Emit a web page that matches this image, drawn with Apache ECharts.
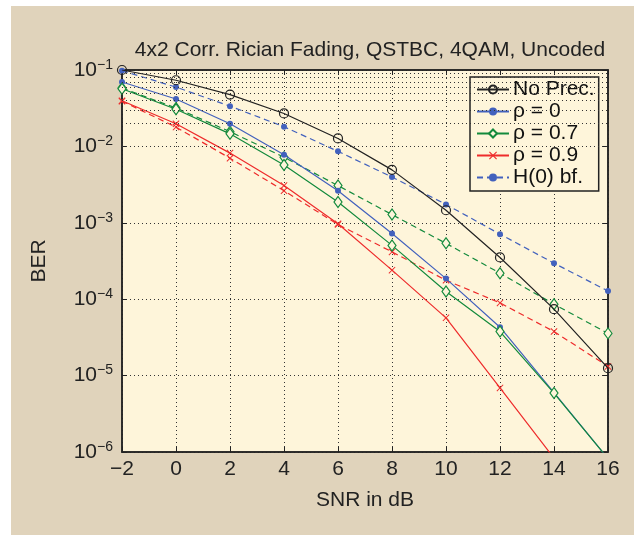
<!DOCTYPE html>
<html>
<head>
<meta charset="utf-8">
<script src="https://cdn.jsdelivr.net/npm/echarts@6/dist/echarts.min.js"></script>
<style>
  html, body { margin: 0; padding: 0; background: #fff; }
  #panel { position: absolute; left: 11px; top: 6px; width: 623px; height: 529px; background: #e0d3bb; }
  #echarts_container { position: absolute; left: 0; top: 0; width: 634px; height: 535px; }
</style>
</head>
<body>
<div id="panel"></div>
<div id="echarts_container"></div>
<script>
var snr = [-2, 0, 2, 4, 6, 8, 10, 12, 14, 16]
var noPrec = [0.1, 0.0734, 0.0477, 0.027, 0.0127, 0.00493, 0.00146, 3.52e-4, 7.4e-5, 1.25e-5]
var rho0 = [0.0697, 0.0417, 0.0198, 0.00776, 0.00263, 7.25e-4, 1.86e-4, 4.3e-5, 6.0e-6, 8.2e-7]
var rho07 = [0.0568, 0.0306, 0.0146, 0.0057, 0.00187, 5.06e-4, 1.26e-4, 3.77e-5, 5.9e-6, 8.2e-7]
var rho09 = [0.0396, 0.0198, 0.00817, 0.00307, 9.7e-4, 2.4e-4, 5.7e-5, 6.9e-6, 8.3e-7]
var bf0 = [0.098, 0.0597, 0.0336, 0.0181, 0.00861, 0.00397, 0.00174, 7.1e-4, 2.96e-4, 1.28e-4]
var bf07 = [0.058, 0.0318, 0.0156, 0.00722, 0.00307, 0.00128, 5.38e-4, 2.19e-4, 8.6e-5, 3.57e-5]
var bf09 = [0.039, 0.0179, 0.0070, 0.00263, 9.5e-4, 4.16e-4, 1.77e-4, 8.95e-5, 3.77e-5, 1.32e-5]

var xTicks = [-2, 0, 2, 4, 6, 8, 10, 12, 14, 16]
var decades = [1e-6, 1e-5, 1e-4, 1e-3, 1e-2]
var minorMult = [2, 3, 4, 5, 6, 7, 8, 9]

var chartDom = document.getElementById('echarts_container');
var myChart = echarts.init(chartDom);
var option;

const pairs = (arr) => arr.map((v, i) => [snr[i], v])

// minor log grid lines (2..9 x decade)
let minorLines = []
decades.map(d => {
    minorMult.map(m => minorLines.push({ yAxis: d * m }))
})

const FONT = 'Liberation Sans, Arial, sans-serif'
const xMark = 'path://M0,1L1,0L5,4L9,0L10,1L6,5L10,9L9,10L5,6L1,10L0,9L4,5Z'

option = {
    animation: false,
    textStyle: { fontFamily: FONT },
    title: {
        text: '4x2 Corr. Rician Fading, QSTBC, 4QAM, Uncoded',
        left: 365,
        top: 35,
        textAlign: 'center',
        textStyle: { fontSize: 21, fontWeight: 'normal', color: '#222', fontFamily: FONT }
    },
    legend: {
        data: ['No Prec.', 'ρ = 0', 'ρ = 0.7', 'ρ = 0.9', 'H(0) bf.'],
        orient: 'vertical',
        left: 470,
        top: 77,
        itemWidth: 32,
        itemHeight: 10,
        itemGap: 1,
        padding: [2, 4, 3, 6],
        backgroundColor: '#fef5da',
        borderColor: '#222',
        borderWidth: 1.5,
        borderRadius: 0,
        textStyle: { fontSize: 21, lineHeight: 21, color: '#111', fontFamily: FONT, padding: [0, 0, 0, -1] }
    },
    grid: {
        left: 122,
        right: 26,
        top: 70,
        bottom: 83,
        show: true,
        backgroundColor: '#fef5da',
        borderColor: '#222',
        borderWidth: 1.5
    },
    xAxis: [{
        type: 'value',
        min: -2,
        max: 16,
        interval: 2,
        name: 'SNR in dB',
        nameLocation: 'middle',
        nameGap: 38,
        nameTextStyle: { fontSize: 21, color: '#222' },
        axisLine: { show: true, onZero: false, lineStyle: { color: '#222', width: 1.5 } },
        axisTick: { inside: true, length: 5, lineStyle: { color: '#222' } },
        axisLabel: {
            fontSize: 21, color: '#222', margin: 7,
            formatter: v => (v < 0 ? '\u2212' + Math.abs(v) : '' + v)
        },
        splitLine: { show: true, lineStyle: { color: '#333', type: [1, 3], width: 1 } }
    }, {
        type: 'value',
        min: -2,
        max: 16,
        interval: 2,
        position: 'top',
        axisLine: { show: true, onZero: false, lineStyle: { color: '#222', width: 1.5 } },
        axisTick: { inside: true, length: 5, lineStyle: { color: '#222' } },
        axisLabel: { show: false },
        splitLine: { show: false }
    }],
    yAxis: [{
        type: 'log',
        logBase: 10,
        min: 1e-6,
        max: 1e-1,
        name: 'BER',
        nameLocation: 'middle',
        nameGap: 72,
        nameTextStyle: { fontSize: 21, color: '#222' },
        axisLine: { show: true, onZero: false, lineStyle: { color: '#222', width: 1.5 } },
        axisTick: { inside: true, length: 5, lineStyle: { color: '#222' } },
        axisLabel: {
            margin: 9,
            formatter: v => '{b|10}{s|\u2212' + Math.abs(Math.round(Math.log10(v))) + '}',
            rich: {
                b: { fontSize: 21, color: '#222', lineHeight: 24, fontFamily: FONT },
                s: { fontSize: 14, color: '#222', lineHeight: 24, padding: [0, 0, 10, 0], fontFamily: FONT }
            }
        },
        splitLine: { show: true, lineStyle: { color: '#333', type: [1, 3], width: 1 } }
    }, {
        type: 'log',
        logBase: 10,
        min: 1e-6,
        max: 1e-1,
        position: 'right',
        axisLine: { show: true, onZero: false, lineStyle: { color: '#222', width: 1.5 } },
        axisTick: { inside: true, length: 5, lineStyle: { color: '#222' } },
        axisLabel: { show: false },
        splitLine: { show: false }
    }],
    series: [
        {
            name: 'minor grid',
            type: 'line',
            data: [],
            silent: true,
            z: 1,
            markLine: {
                silent: true,
                symbol: 'none',
                label: { show: false },
                lineStyle: { color: '#333', type: [1, 3], width: 1 },
                data: minorLines
            }
        },
        {
            name: 'H(0) bf.',
            type: 'line',
            data: pairs(bf0),
            symbol: 'circle',
            symbolSize: 6,
            color: '#4261bd',
            lineStyle: { width: 1.2, type: [6, 4] },
            z: 3
        },
        {
            name: 'H(0) bf. ρ = 0.7',
            type: 'line',
            data: pairs(bf07),
            symbol: 'diamond',
            symbolSize: [8, 11],
            color: '#138a3c',
            itemStyle: { color: '#fef5da', borderColor: '#138a3c', borderWidth: 1.2 },
            lineStyle: { width: 1.2, type: [6, 4], color: '#138a3c' },
            z: 3
        },
        {
            name: 'H(0) bf. ρ = 0.9',
            type: 'line',
            data: pairs(bf09),
            symbol: xMark,
            symbolSize: 7,
            color: '#ee2b2b',
            lineStyle: { width: 1.2, type: [6, 4] },
            z: 3
        },
        {
            name: 'No Prec.',
            type: 'line',
            data: pairs(noPrec),
            symbol: 'circle',
            symbolSize: 9,
            color: '#222',
            itemStyle: { color: 'rgba(0,0,0,0)', borderColor: '#222', borderWidth: 1.2 },
            lineStyle: { width: 1.2, color: '#222' },
            z: 4
        },
        {
            name: 'ρ = 0',
            type: 'line',
            data: pairs(rho0),
            symbol: 'circle',
            symbolSize: 6,
            color: '#4261bd',
            lineStyle: { width: 1.2 },
            z: 4
        },
        {
            name: 'ρ = 0.7',
            type: 'line',
            data: pairs(rho07),
            symbol: 'diamond',
            symbolSize: [8, 11],
            color: '#138a3c',
            itemStyle: { color: '#fef5da', borderColor: '#138a3c', borderWidth: 1.2 },
            lineStyle: { width: 1.2, color: '#138a3c' },
            z: 4
        },
        {
            name: 'ρ = 0.9',
            type: 'line',
            data: pairs(rho09),
            symbol: xMark,
            symbolSize: 7,
            color: '#ee2b2b',
            lineStyle: { width: 1.2 },
            z: 4
        }
    ]
};

option && myChart.setOption(option);
</script>
</body>
</html>
